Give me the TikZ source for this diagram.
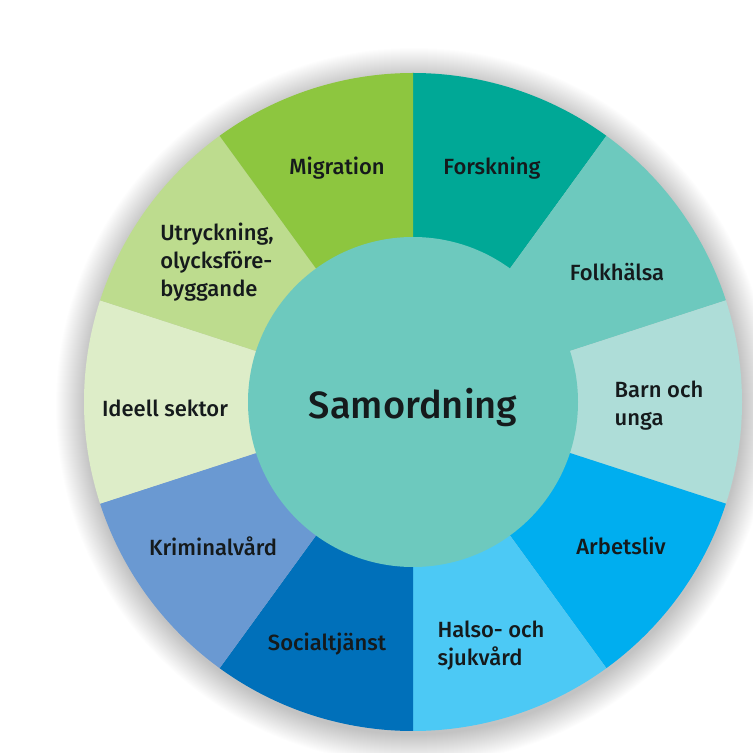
\documentclass[tikz,border=0pt]{standalone}
\usepackage{fontspec}
\setmainfont{Fira Sans Medium}
\definecolor{cMig}{HTML}{8DC63F}
\definecolor{cFor}{HTML}{00A896}
\definecolor{cFol}{HTML}{6DC9BE}
\definecolor{cBarn}{HTML}{AEDDD8}
\definecolor{cArb}{HTML}{00AEEF}
\definecolor{cHal}{HTML}{4CC9F5}
\definecolor{cSoc}{HTML}{0070BA}
\definecolor{cKri}{HTML}{6A99D2}
\definecolor{cIde}{HTML}{DDEDC8}
\definecolor{cUtr}{HTML}{BDDC8E}
\definecolor{cCen}{HTML}{6DC9BE}
\definecolor{cTxt}{HTML}{151A1C}
\tikzset{
  lbl/.style={text=cTxt, font=\fontsize{22}{28}\selectfont, inner sep=0pt},
  lblL/.style={lbl, align=left},
  cen/.style={text=cTxt, font=\fontsize{38}{44}\selectfont, inner sep=0pt}
}
\newcommand{\sector}[3]{%
  \fill[#1] (413,351) -- ++(#2:329) arc[start angle=#2, end angle=#3, radius=329] -- cycle;}
\begin{document}
\begin{tikzpicture}[x=1pt,y=1pt]
\useasboundingbox (0,0) rectangle (753,753);
% soft shadow
\foreach \i in {0,...,29} {
  \fill[black,opacity=0.009] (414,347) circle ({329+29-\i});
}
% sectors
\sector{cFor}{54}{90}
\sector{cFol}{18}{54}
\sector{cBarn}{-18}{18}
\sector{cArb}{-54}{-18}
\sector{cHal}{-90}{-54}
\sector{cSoc}{-126}{-90}
\sector{cKri}{-162}{-126}
\sector{cIde}{162}{198}
\sector{cUtr}{126}{162}
\sector{cMig}{90}{126}
% centre
\fill[cCen] (413,351) circle (165);
% labels
\node[cen] (samordning) at (413,345) {Samordning};
\node[lbl] (migration) at (337,585) {Migration};
\node[lbl] (forskning) at (492,585) {Forskning};
\node[lblL] (utryckning) at (217,491) {Utryckning,\\olycksföre-\\byggande};
\node[lbl] (folkhalsa) at (617,481) {Folkhälsa};
\node[lbl] (ideell) at (165,345) {Ideell sektor};
\node[lblL] (barn) at (659,347) {Barn och\\unga};
\node[lbl] (kriminalvard) at (213,207) {Kriminalvård};
\node[lbl] (arbetsliv) at (621,207) {Arbetsliv};
\node[lbl] (socialtjanst) at (327,109) {Socialtjänst};
\node[lblL] (halso) at (491,107) {Halso- och\\sjukvård};
\end{tikzpicture}
\end{document}
